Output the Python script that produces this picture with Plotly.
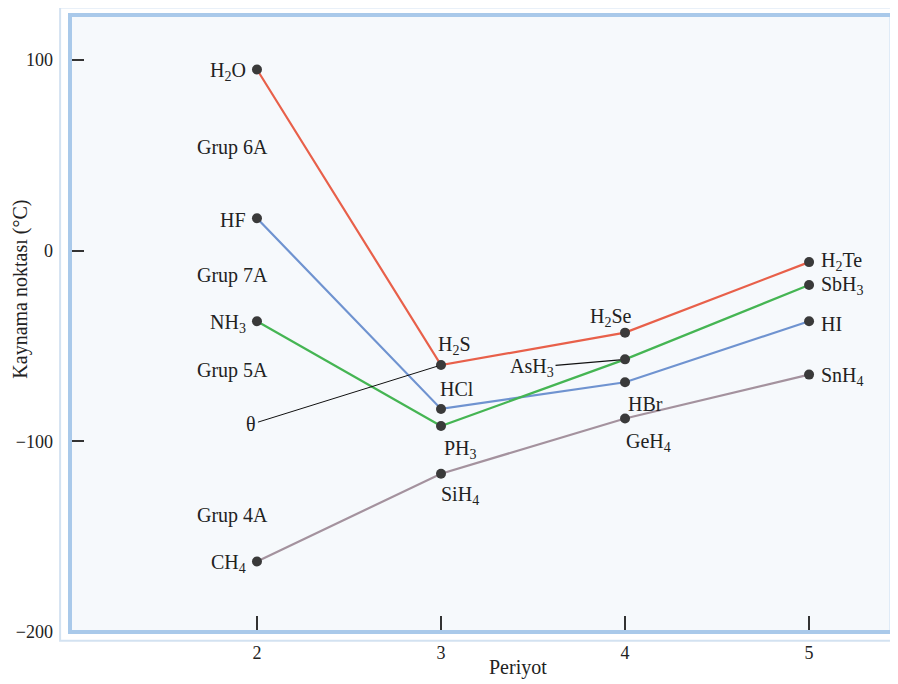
import plotly.graph_objects as go

periods = [2, 3, 4, 5]

group6a_names = ["H<sub>2</sub>O", "H<sub>2</sub>S", "H<sub>2</sub>Se", "H<sub>2</sub>Te"]
group6a_bp = [95, -60, -43, -6]

group7a_names = ["HF", "HCl", "HBr", "HI"]
group7a_bp = [17, -83, -69, -37]

group5a_names = ["NH<sub>3</sub>", "PH<sub>3</sub>", "AsH<sub>3</sub>", "SbH<sub>3</sub>"]
group5a_bp = [-37, -92, -57, -18]

group4a_names = ["CH<sub>4</sub>", "SiH<sub>4</sub>", "GeH<sub>4</sub>", "SnH<sub>4</sub>"]
group4a_bp = [-163, -117, -88, -65]

y_ticks = [100, 0, -100, -200]
x_ticks = [2, 3, 4, 5]

SERIF = "Liberation Serif, Times New Roman, serif"
FS = 20
series = [
    (group6a_names, group6a_bp, "#e8604a"),
    (group7a_names, group7a_bp, "#6f93d0"),
    (group5a_names, group5a_bp, "#45b553"),
    (group4a_names, group4a_bp, "#a4929e"),
]

fig = go.Figure()
for names, vals, col in series:
    fig.add_trace(go.Scatter(
        x=periods, y=vals, mode="lines+markers",
        line=dict(color=col, width=2.2),
        marker=dict(color="#3a3a3a", size=10),
        showlegend=False, hoverinfo="skip"))

ann = []
def lab(x, y, text, xanchor="center", xshift=0, yshift=0):
    ann.append(dict(x=x, y=y, xref="x", yref="y", text=text, showarrow=False,
                    xanchor=xanchor, yanchor="middle", xshift=xshift, yshift=yshift,
                    font=dict(family=SERIF, size=FS, color="#222")))

# period 2 labels (left of points)
for names, vals, _ in series:
    lab(periods[0], vals[0], names[0], xanchor="right", xshift=-9, yshift=-2)
# period 3
lab(3, group6a_bp[1], group6a_names[1], xshift=13, yshift=20)
lab(3, group7a_bp[1], group7a_names[1], xshift=16, yshift=20)
lab(3, group5a_bp[1], group5a_names[1], xshift=19, yshift=-23)
lab(3, group4a_bp[1], group4a_names[1], xshift=19, yshift=-22)
# period 4
lab(4, group6a_bp[2], group6a_names[2], xshift=-14, yshift=15)
lab(4, group7a_bp[2], group7a_names[2], xshift=20, yshift=-22)
lab(4, group4a_bp[2], group4a_names[2], xshift=23, yshift=-24)
ann.append(dict(x=4, y=group5a_bp[2], xref="x", yref="y", text=group5a_names[2],
                showarrow=True, arrowhead=0, arrowwidth=1.2, arrowcolor="#111",
                ax=-93, ay=8, standoff=5,
                font=dict(family=SERIF, size=FS, color="#222")))
# period 5
p5_shift = [1, -3, -1, -2]
for (names, vals, _), ys in zip(series, p5_shift):
    lab(periods[3], vals[3], names[3], xanchor="left", xshift=10, yshift=ys)

# group labels
for txt, yv in [("Grup 6A", 54), ("Grup 7A", -13), ("Grup 5A", -63), ("Grup 4A", -139)]:
    ann.append(dict(x=2, y=yv, xref="x", yref="y", text=txt, showarrow=False,
                    xanchor="center", xshift=-24,
                    font=dict(family=SERIF, size=FS, color="#222")))

# theta pointer to H2S
ann.append(dict(x=3, y=group6a_bp[1], xref="x", yref="y", text="θ",
                showarrow=True, arrowhead=0, arrowwidth=1, arrowcolor="#111",
                axref="x", ayref="y", ax=1.97, ay=-91, standoff=4,
                font=dict(family=SERIF, size=FS, color="#222")))

# axis titles
ann.append(dict(x=0.543, y=-0.036, xref="paper", yref="paper", text="Periyot",
                showarrow=False, xanchor="center", yanchor="top",
                font=dict(family=SERIF, size=FS, color="#222")))
ann.append(dict(x=-0.0605, y=0.555, xref="paper", yref="paper",
                text="Kaynama noktası (°C)", textangle=-90, showarrow=False,
                xanchor="center", yanchor="middle",
                font=dict(family=SERIF, size=FS, color="#222")))

shapes = [
    dict(type="rect", xref="paper", yref="paper", x0=-0.012, x1=1.0, y0=-0.014, y1=1.012,
         line=dict(color="#d3e2f1", width=2), layer="below"),
    dict(type="rect", xref="paper", yref="paper", x0=0, x1=0.996, y0=0, y1=1,
         line=dict(color="#a9c9ea", width=4), layer="above"),
]

fig.update_layout(
    width=890, height=676,
    margin=dict(l=62, r=3, t=7, b=52, autoexpand=False),
    paper_bgcolor="white", plot_bgcolor="#f6f9fc",
    annotations=ann, shapes=shapes,
    xaxis=dict(range=[0.984, 5.467], tickvals=x_ticks, ticks="inside", ticklen=16,
               tickwidth=1.5, tickcolor="#333", showgrid=False, zeroline=False,
               showline=False, ticklabelstandoff=8, automargin=False,
               tickfont=dict(family=SERIF, size=18, color="#222")),
    yaxis=dict(range=[-200, 123.6], tickvals=y_ticks, ticktext=["100", "0", "−100", "−200"],
               ticks="inside", ticklen=14, tickwidth=1.5, tickcolor="#333",
               showgrid=False, zeroline=False, showline=False, ticklabelstandoff=16,
               automargin=False,
               tickfont=dict(family=SERIF, size=18, color="#222")),
)

fig.write_html("out.html")
